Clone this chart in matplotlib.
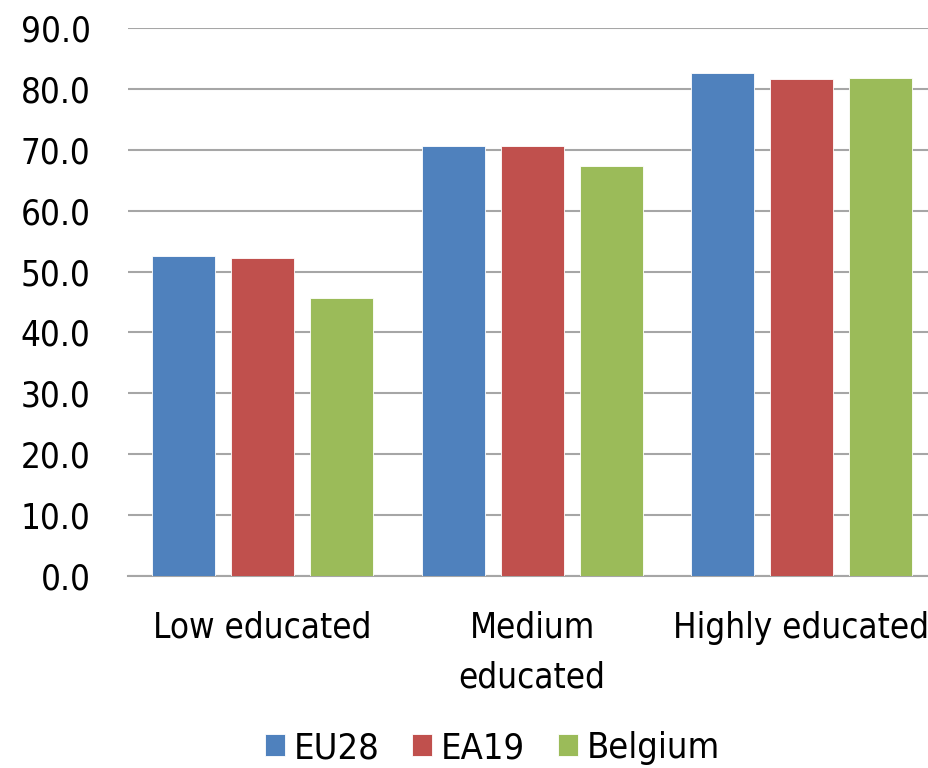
import matplotlib.pyplot as plt
import numpy as np

plt.rcParams['font.family'] = ['DejaVu Sans']
plt.rcParams['font.stretch'] = 'condensed'

# Employment rate by education level
categories = ['Low educated', 'Medium\neducated', 'Highly educated']
series = ['EU28', 'EA19', 'Belgium']
eu28 = [52.5, 70.6, 82.6]
ea19 = [52.2, 70.6, 81.6]
belgium = [45.6, 67.3, 81.8]
colors = ['#4F81BD', '#C0504D', '#9BBB59']

fig = plt.figure(figsize=(9.29, 7.68), dpi=100)
ax = fig.add_axes([0.1378, 0.25, 0.87, 0.7135])

x = np.arange(len(categories))
slot = 0.293
width = 0.234
for i, (vals, name) in enumerate(zip([eu28, ea19, belgium], series)):
    ax.bar(x + (i - 1) * slot, vals, width, color=colors[i], label=name,
           edgecolor='white', linewidth=0.6, zorder=3)

ax.set_ylim(0, 90)
ax.set_xlim(-0.5, 2.5)
ax.set_yticks(np.arange(0, 91, 10))
ax.set_yticklabels([f'{v:.1f}' for v in np.arange(0, 91, 10)])
ax.set_xticks(x)
ax.set_xticklabels(categories, linespacing=1.6)

ax.grid(axis='y', color='#a6a6a6', linewidth=1.5, zorder=0)
for s in ['top', 'right', 'left']:
    ax.spines[s].set_visible(False)
ax.spines['bottom'].set_color('#a6a6a6')
ax.spines['bottom'].set_linewidth(1.5)
ax.tick_params(axis='both', length=0, labelsize=25, colors='black')
ax.tick_params(axis='y', pad=27)
ax.tick_params(axis='x', pad=25)

fig.legend(loc='center', bbox_to_anchor=(0.53, 0.026), ncol=3, frameon=False,
           fontsize=26, handlelength=0.55, handleheight=0.55, handletextpad=0.25,
           columnspacing=0.9)

fig.savefig('out.png', dpi=100)
